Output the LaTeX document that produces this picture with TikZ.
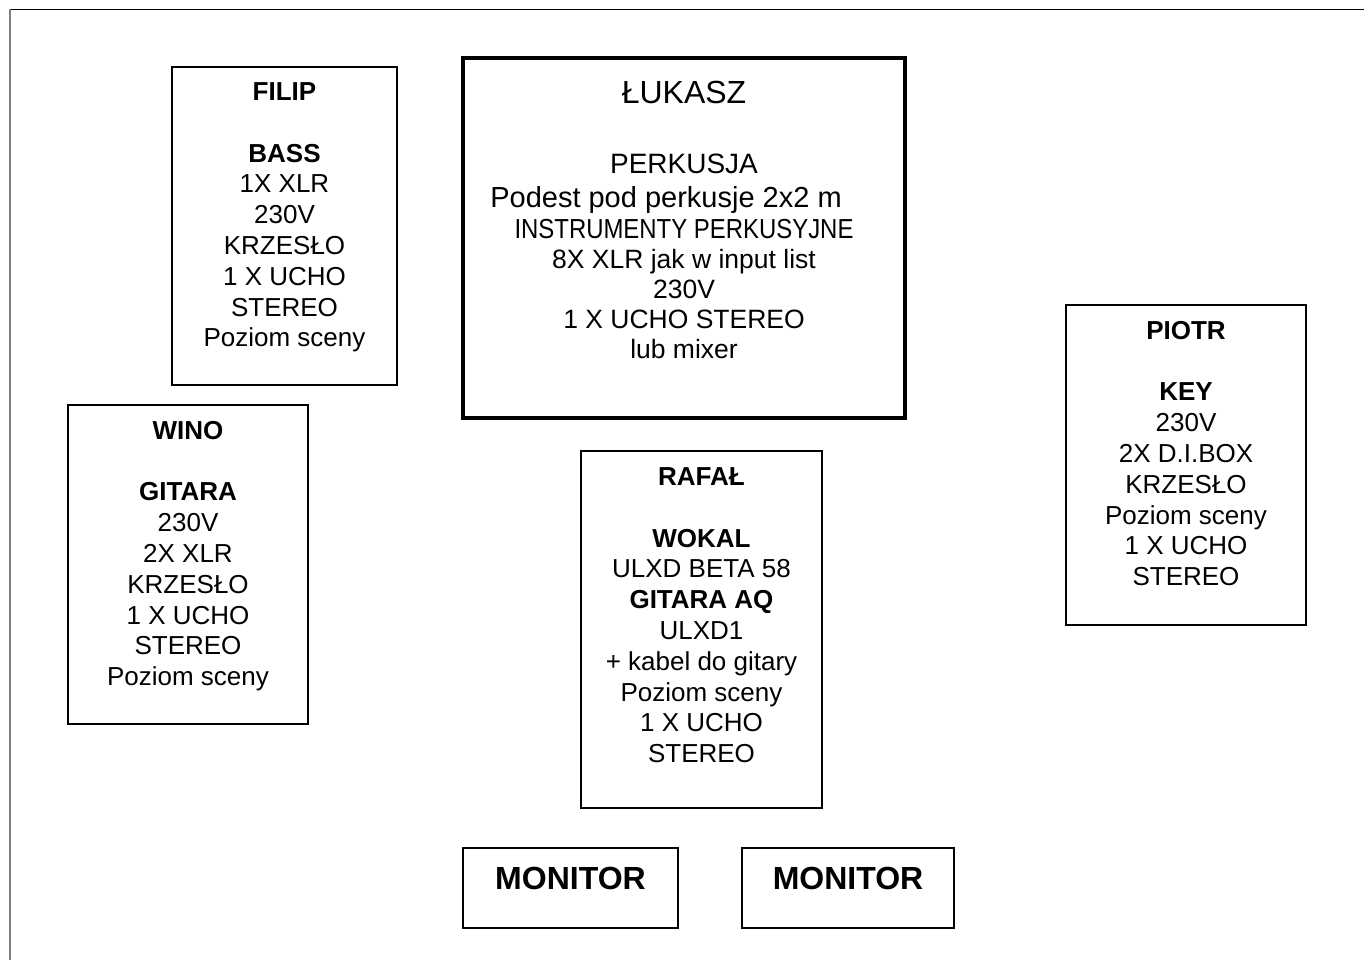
\documentclass[tikz,border=0pt]{standalone}
\usepackage{fontspec}
\setmainfont{Liberation Sans}
\usepackage{graphicx}
\usetikzlibrary{positioning}
\tikzset{player/.style={rectangle, draw=black, line width=1.2pt, inner sep=0pt},
  drums/.style={player, line width=4pt},
  monitor/.style={player, line width=2pt},
  info/.style={align=center, inner sep=0pt,
    font=\fontsize{26}{30.8}\selectfont},
  frame/.style={line width=1.6pt}
}

\begin{document}
\begin{tikzpicture}[x=1pt, y=-1pt]
  \useasboundingbox (0,0) rectangle (1364,960);

  % page frame
  \coordinate (topleft) at (10,9.5);
  \coordinate (topright) at (1364,9.5);
  \coordinate (bottomleft) at (10,960);
  \draw [frame] (topleft) -- (topright);
  \draw [frame, gray] (topleft) -- (bottomleft);

  %Filip node
  \node (filip) [player, minimum width=225pt, minimum height=318pt] at (284.5,226) {};
  \node (filip-text) [info, below=16pt of filip.north]
  {
     \textbf{FILIP}\\[30.8pt]
     \textbf{BASS}\\
     1X XLR\\
     230V\\
     KRZESŁO\\
     1 X UCHO\\
     STEREO\\
     Poziom sceny
  };

  %Lukasz node
  \node (lukasz) [drums, minimum width=442pt, minimum height=360pt] at (684,238) {};
  \node (lukasz-text) [info, font=\fontsize{26.5}{30.2}\selectfont,
    below=25pt of lukasz.north]
  {
     {\fontsize{32}{32}\selectfont ŁUKASZ}\\[39.5pt]
     {\fontsize{28}{28}\selectfont PERKUSJA}\\[4.5pt]
     {\fontsize{29}{29}\selectfont Podest pod perkusje 2x2 m\kern36pt}\\
     \scalebox{0.87}[1]{\fontsize{27.5}{28}\selectfont INSTRUMENTY PERKUSYJNE}\\
     8X XLR jak w input list\\
     230V\\
     1 X UCHO STEREO\\
     lub mixer
  };

  %Wino node
  \node (wino) [player, minimum width=240pt, minimum height=319pt] at (188,564.5) {};
  \node (wino-text) [info, below=16.5pt of wino.north]
  {
     \textbf{WINO}\\[30.8pt]
     \textbf{GITARA}\\
     230V\\
     2X XLR\\
     KRZESŁO\\
     1 X UCHO\\
     STEREO\\
     Poziom sceny
  };

  %Rafal node
  \node (rafal) [player, minimum width=241pt, minimum height=357pt] at (701.5,629.5) {};
  \node (rafal-text) [info, below=17pt of rafal.north]
  {
     \textbf{RAFAŁ}\\[30.8pt]
     \textbf{WOKAL}\\
     ULXD BETA 58\\
     \textbf{GITARA AQ}\\
     ULXD1\\
     + kabel do gitary\\
     Poziom sceny\\
     1 X UCHO\\
     STEREO
  };

  %Piotr node
  \node (piotr) [player, minimum width=240pt, minimum height=320pt] at (1186,465) {};
  \node (piotr-text) [info, below=16.5pt of piotr.north]
  {
     \textbf{PIOTR}\\[30.8pt]
     \textbf{KEY}\\
     230V\\
     2X D.I.BOX\\
     KRZESŁO\\
     Poziom sceny\\
     1 X UCHO\\
     STEREO
  };

  %Monitor nodes
  \node (monitor-1) [monitor, minimum width=215pt, minimum height=80pt] at (570.5,888) {};
  \node (monitor-2) [monitor, minimum width=212pt, minimum height=80pt] at (848,888) {};
  \node (monitor-1-text) [info, font=\fontsize{32}{32}\selectfont\bfseries,
    below=19.5pt of monitor-1.north] {MONITOR};
  \node (monitor-2-text) [info, font=\fontsize{32}{32}\selectfont\bfseries,
    below=19.5pt of monitor-2.north] {MONITOR};

\end{tikzpicture}
\end{document}
